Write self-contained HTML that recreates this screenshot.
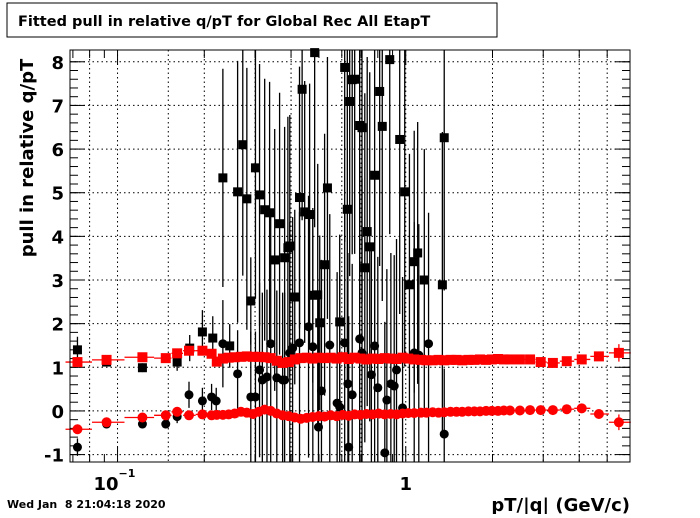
<!DOCTYPE html>
<html><head><meta charset="utf-8"><style>
body{margin:0;background:#fff;width:700px;height:514px;overflow:hidden;font-family:"DejaVu Sans",sans-serif}
</style></head><body>
<svg id="c" width="700" height="514" xmlns="http://www.w3.org/2000/svg" font-family="DejaVu Sans, sans-serif">
<rect x="7" y="3" width="490" height="34" fill="#fff" stroke="#000"/>
<text x="18" y="26" font-size="14.5" font-weight="bold">Fitted pull in relative q/pT for Global Rec All EtapT</text>
<text transform="translate(33,158) rotate(-90)" text-anchor="middle" font-size="18" font-weight="bold">pull in relative q/pT</text>
<text x="630" y="511" text-anchor="end" font-size="18" font-weight="bold">pT/|q| (GeV/c)</text>
<text x="7" y="508" font-size="11" font-weight="bold" xml:space="preserve">Wed Jan  8 21:04:18 2020</text>
<g id="grid"></g><g id="axes"></g><g id="marks"></g>
<rect x="70" y="50" width="560" height="412" fill="none" stroke="#000"/>
</svg>
<script>
const xMin=0.0684, xMax=6.0, yMin=-1.17, yMax=8.27;
const yTicks=[-1,0,1,2,3,4,5,6,7,8];
const xGrid=[0.08,0.1,0.15,0.2,0.3,0.4,0.6,0.7,1,2,3,4,5];
const redX=[0.0726,0.0916,0.122,0.147,0.161,0.177,0.197,0.212,
0.221,0.232,0.243,0.255,0.268,0.281,0.295,0.309,0.324,0.340,0.357,0.374,0.393,0.412,0.432,0.453,0.475,0.499,0.523,0.549,0.576,0.604,0.634,0.665,0.697,0.731,0.767,0.805,0.845,0.886,0.929,0.975,1.02,1.07,1.13,1.18,1.24,1.30,1.36,1.43,1.50,1.57,1.65,1.73,1.81,1.90,1.99,2.09,2.19,2.30,
2.49,2.70,2.94,3.24,3.62,4.08,4.68,5.49];
const redSquareY=[1.12,1.17,1.23,1.21,1.32,1.38,1.38,1.31,
1.13,1.20,1.22,1.23,1.24,1.25,1.24,1.24,1.23,1.21,1.15,1.10,1.12,1.18,1.21,1.22,1.20,1.22,1.21,1.22,1.20,1.23,1.19,1.22,1.20,1.18,1.20,1.19,1.21,1.20,1.19,1.22,1.20,1.18,1.17,1.16,1.16,1.17,1.16,1.17,1.17,1.16,1.17,1.17,1.18,1.17,1.18,1.19,1.18,1.18,
1.18,1.18,1.12,1.10,1.14,1.18,1.25,1.33];
const redCircleY=[-0.42,-0.26,-0.15,-0.10,-0.02,-0.10,-0.08,-0.10,
-0.09,-0.09,-0.08,-0.06,-0.02,-0.04,-0.07,-0.02,0.03,0.0,-0.06,-0.10,-0.12,-0.15,-0.18,-0.16,-0.14,-0.12,-0.13,-0.10,-0.12,-0.09,-0.11,-0.08,-0.09,-0.07,-0.08,-0.06,-0.08,-0.07,-0.08,-0.06,-0.05,-0.05,-0.04,-0.04,-0.03,-0.04,-0.03,-0.02,-0.02,-0.02,-0.01,-0.01,-0.01,0.0,0.0,0.0,0.01,0.01,
0.01,0.02,0.02,0.02,0.04,0.06,-0.07,-0.26];
const blackSqX=[0.0726,0.0916,0.122,0.161,0.178,0.197,0.214,0.232,0.245,0.261,0.272,0.281,0.290,0.301,0.311,0.324,0.337,0.351,0.365,0.380,0.390,0.396,0.412,0.428,0.437,0.446,0.464,0.476,0.483,0.495,0.503,0.523,0.535,0.590,0.614,0.627,0.639,0.652,0.665,0.692,0.705,0.721,0.735,0.750,0.780,0.812,0.829,0.880,0.953,0.992,1.03,1.07,1.10,1.16,1.34,1.36];
const blackSqY=[1.40,1.12,0.99,1.12,1.44,1.81,1.67,5.34,1.49,5.02,6.10,4.86,2.52,5.57,4.95,4.61,4.54,3.46,4.29,3.51,3.74,3.78,2.61,4.89,7.37,4.56,4.50,2.65,8.21,2.66,2.02,3.35,5.11,2.04,7.87,4.62,7.09,7.59,7.60,6.54,6.49,3.28,4.11,3.76,5.40,7.32,6.52,8.05,6.22,5.02,2.89,3.42,3.62,3.00,2.89,6.26];
const blackSqErr=[0.3,0.1,0.1,0.2,0.3,0.5,0.5,2.5,0.5,3,3,3,1,3,3,3,3,3,3,3,3,3,2,3,3,3,3,2,4,3,2,3,3,2,4,4,4,4,4,4,4,4,4,4,4,4,4,4,4,4,3,3,3,3,3.5,3.5];
const blackCirX=[0.0726,0.0916,0.122,0.147,0.161,0.177,0.197,0.212,0.220,0.232,0.261,0.290,0.301,0.311,0.318,0.330,0.340,0.357,0.374,0.380,0.396,0.405,0.428,0.460,0.476,0.498,0.510,0.545,0.578,0.590,0.614,0.630,0.634,0.652,0.692,0.705,0.760,0.780,0.800,0.846,0.860,0.888,0.912,0.929,0.975,1.07,1.11,1.20,1.36];
const blackCirY=[-0.83,-0.30,-0.30,-0.30,-0.13,0.37,0.23,0.32,0.23,1.54,0.85,0.32,0.32,0.94,0.71,0.78,1.54,0.76,0.71,0.71,1.33,1.44,1.56,1.93,1.47,-0.37,0.46,1.51,0.18,0.09,1.56,0.62,-0.83,0.37,1.65,1.33,0.83,1.49,0.53,-0.96,0.25,0.62,0.57,0.94,0.07,1.33,1.28,1.54,-0.53];
const blackCirErr=[0.2,0.1,0.1,0.1,0.15,0.3,0.3,0.3,0.3,1,1,1.5,1.5,2,2,2,3,2,2,2,3,3,3,3,3,3,3,3,3,3,3,3,3,3,4,4,3,4,3,3,3,3,3,3,3,3,3,3,1.5];
const L=70,R=630,T=50,B=462;
function xs(v){return L+(Math.log10(v)-Math.log10(xMin))/(Math.log10(xMax)-Math.log10(xMin))*(R-L);}
function ys(v){return B-(v-yMin)/(yMax-yMin)*(B-T);}
const NS="http://www.w3.org/2000/svg";
function mk(t,a,p){const e=document.createElementNS(NS,t);for(const k in a)e.setAttribute(k,a[k]);p.appendChild(e);return e;}
const grid=document.getElementById('grid'),axes=document.getElementById('axes'),marks=document.getElementById('marks');
yTicks.forEach(v=>{
 const l=mk('line',{x1:L,x2:R,y1:ys(v),y2:ys(v),stroke:'#000','stroke-dasharray':'1.5,3'},grid);
 
 
 const t=mk('text',{x:64,y:ys(v)+7,'text-anchor':'end','font-size':18,'font-weight':'bold'},axes);
 t.textContent=String(v);
 
 
 mk('line',{x1:L,x2:L+15,y1:ys(v),y2:ys(v),stroke:'#000'},axes);
 mk('line',{x1:R,x2:R-15,y1:ys(v),y2:ys(v),stroke:'#000'},axes);
});
for(let v=-1;v<8.2;v+=0.2){const y=ys(v);if(y<T||y>B)continue;mk('line',{x1:L,x2:L+8,y1:y,y2:y,stroke:'#000'},axes);mk('line',{x1:R,x2:R-8,y1:y,y2:y,stroke:'#000'},axes);}
xGrid.forEach(v=>{
 const l=mk('line',{x1:xs(v),x2:xs(v),y1:T,y2:B,stroke:'#000','stroke-dasharray':'1.5,3'},grid);
 
 
});
[0.07,0.08,0.09,0.1,0.2,0.3,0.4,0.5,0.6,0.7,0.8,0.9,1,2,3,4,5].forEach(v=>{const x=xs(v);const len=(v===0.1||v===1)?15:8;mk('line',{x1:x,x2:x,y1:B,y2:B-len,stroke:'#000'},axes);mk('line',{x1:x,x2:x,y1:T,y2:T+len,stroke:'#000'},axes);});
let t1=mk('text',{x:xs(0.1)-24,y:490,'font-size':18,'font-weight':'bold'},axes);t1.textContent='10';


let t1e=mk('text',{x:xs(0.1)+1,y:477,'font-size':11,'font-weight':'bold'},axes);t1e.textContent='−1';


let t2=mk('text',{x:xs(1),y:490,'text-anchor':'middle','font-size':18,'font-weight':'bold'},axes);t2.textContent='1';


function errV(x,y,e,col){const l=mk('line',{x1:xs(x),x2:xs(x),y1:Math.max(T,ys(y+e)),y2:Math.min(B,ys(y-e)),stroke:col,'stroke-width':1.3},marks);}
function sq(x,y,col,s,name){const px=xs(x),py=ys(y);if(py<T-2||py>B+2)return;const r=mk('rect',{x:px-s/2,y:py-s/2,width:s,height:s,fill:col},marks);}
function ci(x,y,col,s,name){const px=xs(x),py=ys(y);if(py<T-2||py>B+2)return;const c=mk('circle',{cx:px,cy:py,r:s/2,fill:col},marks);}
blackSqX.forEach((x,i)=>{errV(x,blackSqY[i],blackSqErr[i],'#000');});
blackCirX.forEach((x,i)=>{errV(x,blackCirY[i],blackCirErr[i],'#000');});
blackSqX.forEach((x,i)=>sq(x,blackSqY[i],'#000',9,'black-square-point'));
blackCirX.forEach((x,i)=>ci(x,blackCirY[i],'#000',9,'black-circle-point'));
redX.forEach((x,i)=>{
 const lo=i>0?Math.sqrt(redX[i-1]*x):x/1.1, hi=i<redX.length-1?Math.sqrt(redX[i+1]*x):x*1.1;
 [redSquareY[i],redCircleY[i]].forEach(y=>{const h=mk('line',{x1:xs(lo),x2:xs(hi),y1:ys(y),y2:ys(y),stroke:'#f00','stroke-width':1.3},marks);});
 if(x>4){errV(x,redSquareY[i],x>5?0.2:0.1,'#f00');errV(x,redCircleY[i],x>5?0.18:0.1,'#f00');}
 sq(x,redSquareY[i],'#f00',10,'red-square-point');
 ci(x,redCircleY[i],'#f00',10,'red-circle-point');
});
</script>
</body></html>
